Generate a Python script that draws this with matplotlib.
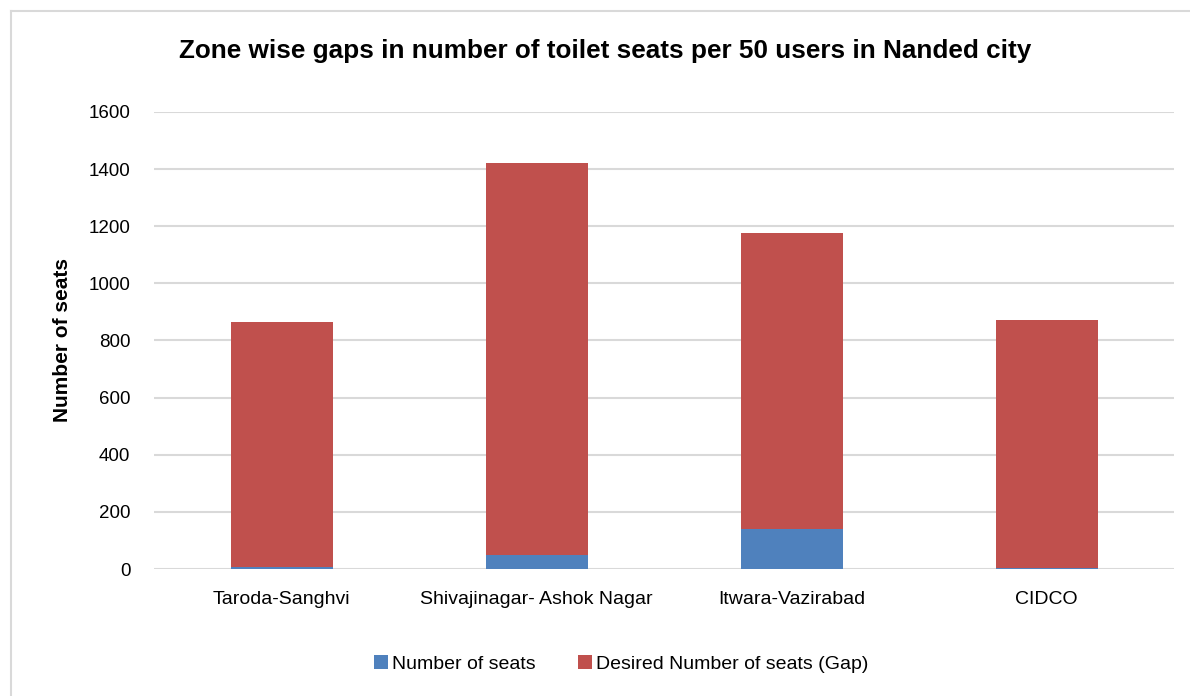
import matplotlib
matplotlib.use("Agg")
import matplotlib.pyplot as plt
from matplotlib.lines import Line2D
import numpy as np

categories = ["Taroda-Sanghvi", "Shivajinagar- Ashok Nagar", "Itwara-Vazirabad", "CIDCO"]
seats = [8, 50, 140, 5]
totals = [866, 1423, 1178, 873]
gap = [t - s for t, s in zip(totals, seats)]
yticks = [0, 200, 400, 600, 800, 1000, 1200, 1400, 1600]

plt.rcParams['font.family'] = ['Liberation Sans Narrow', 'Liberation Sans', 'DejaVu Sans']

fig = plt.figure(figsize=(11.9, 6.96), dpi=100)
ax = fig.add_axes([154/1190, 1-569/696, (1174-154)/1190, (569-112)/696])

x = np.arange(len(categories))
ax.bar(x, seats, width=0.4, color="#4F81BD", label="Number of seats", zorder=3)
ax.bar(x, gap, width=0.4, bottom=seats, color="#C0504D", label="Desired Number of seats (Gap)", zorder=3)

ax.set_xlim(-0.5, 3.5)
ax.set_ylim(0, 1600)
ax.set_yticks(yticks)
ax.set_yticklabels([str(v) for v in yticks], fontsize=13.5)
ax.set_xticks(x)
ax.set_xticklabels(categories, fontsize=14)
ax.tick_params(axis='x', length=0, pad=16)
ax.tick_params(axis='y', length=0, pad=17)
ax.grid(axis='y', color="#D9D9D9", linewidth=1.5, zorder=0)
for s in ax.spines.values():
    s.set_visible(False)
ax.set_ylabel("Number of seats", fontsize=15, fontweight='bold', labelpad=12)

fig.text(605/1190, 1-51/696, "Zone wise gaps in number of toilet seats per 50 users in Nanded city",
         ha='center', va='center', fontsize=18.8, fontweight='bold')

leg = fig.legend(loc='center', bbox_to_anchor=(621/1190, 1-664/696), ncol=2, frameon=False,
                 fontsize=14, handlelength=0.7, handleheight=0.7, handletextpad=0.2, columnspacing=2.2)

fig.add_artist(Line2D([11/1190, 11/1190], [0, 1-11/696], color="#D9D9D9", linewidth=1.5, transform=fig.transFigure))
fig.add_artist(Line2D([11/1190, 1], [1-11/696, 1-11/696], color="#D9D9D9", linewidth=1.5, transform=fig.transFigure))

fig.savefig("out.png", dpi=100)
